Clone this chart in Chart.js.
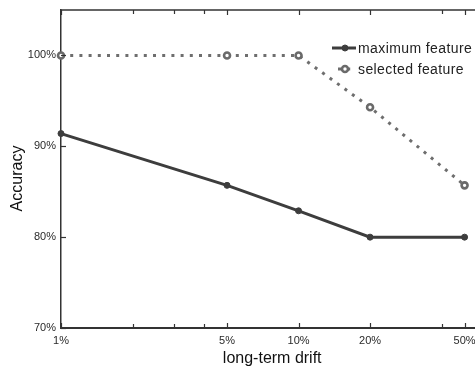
<!DOCTYPE html>
<html>
<head>
<meta charset="utf-8">
<script src="https://cdn.jsdelivr.net/npm/chart.js@4/dist/chart.umd.min.js"></script>
<style>
html,body{margin:0;padding:0;background:#fff;overflow:hidden;}
#wrap{width:475px;height:372px;overflow:hidden;position:relative;}
#c{position:absolute;left:0;top:0;}
</style>
</head>
<body>
<div id="wrap"><canvas id="c" width="490" height="372" style="width:490px;height:372px"></canvas></div>
<script>
// ---- data ----
const drift = [1, 5, 10, 20, 50];                 // long-term drift (%)
const maximumFeature = [91.4, 85.7, 82.9, 80.0, 80.0];
const selectedFeature = [100, 100, 100, 94.3, 85.7];
const xTicks = [1, 5, 10, 20, 50];
const xMinorTicks = [2, 3, 4, 40];
const yTicks = [70, 80, 90, 100];
const seriesNames = ['maximum feature', 'selected feature'];
const xTitle = 'long-term drift';
const yTitle = 'Accuracy';

const toPts = arr => drift.map((d, i) => ({x: d, y: arr[i]}));

const decor = {
  id: 'decor',
  afterDraw(chart) {
    const {ctx, chartArea: a, scales: {x, y}} = chart;
    ctx.save();
    ctx.strokeStyle = '#333';
    ctx.lineWidth = 1.5;
    ctx.beginPath();
    ctx.moveTo(a.left, a.top); ctx.lineTo(a.right, a.top); ctx.lineTo(a.right, a.bottom);
    ctx.stroke();
    ctx.lineWidth = 1.2;
    const xt = [...xTicks.map(v => [v, 5]), ...xMinorTicks.map(v => [v, 4])];
    xt.forEach(([v, len]) => {
      const px = Math.round(x.getPixelForValue(v)) + 0.5;
      ctx.beginPath();
      ctx.moveTo(px, a.bottom); ctx.lineTo(px, a.bottom - len);
      ctx.moveTo(px, a.top); ctx.lineTo(px, a.top + len);
      ctx.stroke();
    });
    yTicks.forEach(v => {
      const py = Math.round(y.getPixelForValue(v)) + 0.5;
      ctx.beginPath();
      ctx.moveTo(a.left, py); ctx.lineTo(a.left + 5, py);
      ctx.stroke();
    });
    // y axis title
    ctx.save();
    ctx.translate(18, 178.5);
    ctx.rotate(-Math.PI / 2);
    ctx.font = '16px "Liberation Sans", Arial, sans-serif';
    ctx.fillStyle = '#111';
    ctx.textAlign = 'center';
    ctx.textBaseline = 'middle';
    ctx.fillText(yTitle, 0, 0);
    ctx.restore();
    // legend
    const ds = chart.data.datasets;
    const lx0 = 332, lx1 = 356, tx = 358;
    const rows = [48, 69];
    ctx.font = '14px "Liberation Sans", Arial, sans-serif';
    try { ctx.letterSpacing = '0.4px'; } catch (e) {}
    ctx.textBaseline = 'middle';
    ctx.textAlign = 'left';
    ds.forEach((d, i) => {
      const yy = rows[i];
      ctx.save();
      ctx.strokeStyle = d.borderColor;
      ctx.lineWidth = d.borderWidth;
      ctx.setLineDash(d.borderDash || []);
      ctx.beginPath();
      if (d.borderDash) { ctx.moveTo(lx0 + 6, yy); ctx.lineTo(lx1, yy); }
      else { ctx.moveTo(lx0, yy); ctx.lineTo(lx1, yy); }
      ctx.stroke();
      ctx.setLineDash([]);
      const mx = (lx0 + lx1) / 2 + 1;
      if (d.borderDash) {
        ctx.fillStyle = '#fff';
        ctx.beginPath(); ctx.arc(mx, yy, d.pointRadius + 1, 0, Math.PI * 2); ctx.fill();
      }
      ctx.beginPath(); ctx.arc(mx, yy, d.pointRadius, 0, Math.PI * 2);
      ctx.fillStyle = d.pointBackgroundColor; ctx.fill();
      ctx.strokeStyle = d.pointBorderColor; ctx.lineWidth = d.pointBorderWidth; ctx.stroke();
      ctx.restore();
      ctx.fillStyle = '#222';
      ctx.fillText(d.label, tx, yy + 1);
    });
    ctx.restore();
  }
};

new Chart(document.getElementById('c'), {
  type: 'line',
  data: {
    datasets: [
      {
        label: seriesNames[0],
        data: toPts(maximumFeature),
        borderColor: '#3d3d3d',
        borderWidth: 3,
        pointRadius: 3,
        pointBackgroundColor: '#3d3d3d',
        pointBorderColor: '#3d3d3d',
        pointBorderWidth: 1,
        clip: false
      },
      {
        label: seriesNames[1],
        data: toPts(selectedFeature),
        borderColor: '#6e6e6e',
        borderWidth: 3,
        borderDash: [3, 6.2],
        borderCapStyle: 'butt',
        pointRadius: 3,
        pointBackgroundColor: '#ffffff',
        pointBorderColor: '#6a6a6a',
        pointBorderWidth: 2.6,
        clip: false
      }
    ]
  },
  options: {
    responsive: false,
    maintainAspectRatio: false,
    devicePixelRatio: 1,
    animation: false,
    events: [],
    layout: {padding: {top: 10, right: 2, left: 0, bottom: 0}},
    plugins: {legend: {display: false}, tooltip: {enabled: false}},
    scales: {
      x: {
        type: 'logarithmic',
        min: 1,
        max: 60,
        afterBuildTicks: s => { s.ticks = xTicks.map(v => ({value: v})); },
        afterFit: s => { s.height = 44; },
        grid: {display: false, drawTicks: false},
        border: {display: true, color: '#333', width: 2},
        ticks: {
          autoSkip: false,
          maxRotation: 0,
          padding: 1,
          color: '#2a2a2a',
          font: {family: '"Liberation Sans", Arial, sans-serif', size: 11, lineHeight: 2.2},
          callback: v => v + '%'
        },
        title: {
          display: true,
          text: xTitle,
          color: '#111',
          font: {family: '"Liberation Sans", Arial, sans-serif', size: 16},
          padding: {top: 0, bottom: 3.5}
        }
      },
      y: {
        type: 'linear',
        min: 70,
        max: 105,
        afterBuildTicks: s => { s.ticks = yTicks.map(v => ({value: v})); },
        afterFit: s => { s.width = 61; },
        grid: {display: false, drawTicks: false},
        border: {display: true, color: '#333', width: 1.5},
        ticks: {
          padding: 5,
          color: '#2a2a2a',
          font: {family: '"Liberation Sans", Arial, sans-serif', size: 11, lineHeight: 0.5},
          callback: v => v + '%'
        },
        title: {display: false, text: yTitle}
      }
    }
  },
  plugins: [decor]
});
</script>
</body>
</html>
